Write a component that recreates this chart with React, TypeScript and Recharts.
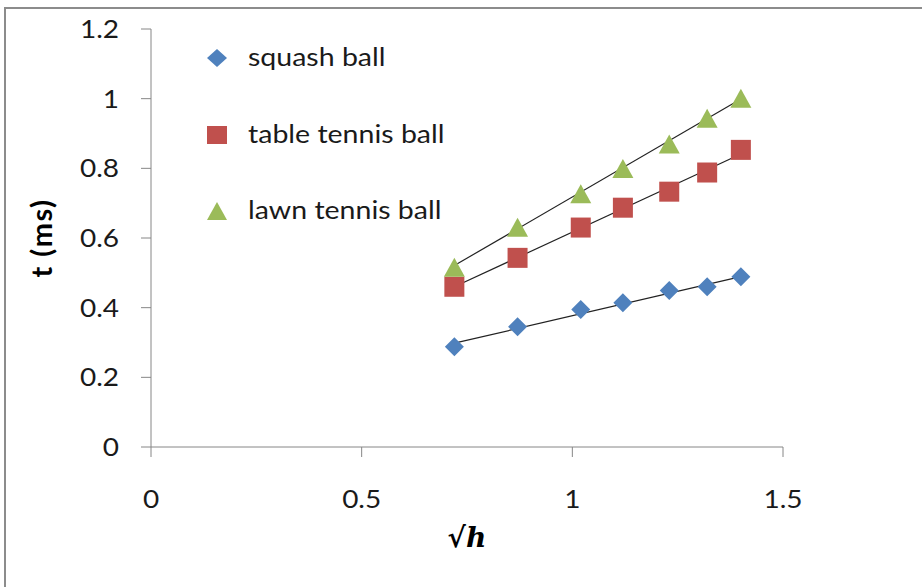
import React from 'react';
import { ScatterChart, Scatter, XAxis, YAxis, ReferenceLine, Label } from 'recharts';

// sqrt(h) values shared by all three series
const xValues = [0.72, 0.87, 1.02, 1.12, 1.23, 1.32, 1.4];
const squashBall = [0.288, 0.345, 0.395, 0.414, 0.449, 0.46, 0.489];
const tableTennisBall = [0.46, 0.543, 0.63, 0.687, 0.733, 0.788, 0.853];
const lawnTennisBall = [0.513, 0.628, 0.724, 0.797, 0.867, 0.941, 0.998];

// linear trendline end points
const trendX = [0.72, 1.4];
const squashTrend = [0.298, 0.489];
const tableTrend = [0.46, 0.841];
const lawnTrend = [0.521, 0.999];

const xTicks = [0, 0.5, 1, 1.5];
const yTicks = [0, 0.2, 0.4, 0.6, 0.8, 1, 1.2];

const colors = {
    squash: '#4F81BD',
    table: '#C0504D',
    lawn: '#9BBB59',
    axis: '#868686',
    text: '#1a1a1a',
    trend: '#222222',
};

const FONT = 'Lato, "Open Sans", sans-serif';
const STRETCH = 1.12;

const toPoints = (ys: number[]) => ys.map((y, i) => ({ x: xValues[i], y }));

const Diamond = (props: any) => {
    const { cx, cy } = props;
    if (cx == null || cy == null) return null;
    return <polygon points={`${cx},${cy - 9.5} ${cx + 9.5},${cy} ${cx},${cy + 9.5} ${cx - 9.5},${cy}`} fill={colors.squash} />;
};

const Square = (props: any) => {
    const { cx, cy } = props;
    if (cx == null || cy == null) return null;
    return <rect x={cx - 10} y={cy - 10} width={20} height={20} fill={colors.table} />;
};

const Triangle = (props: any) => {
    const { cx, cy } = props;
    if (cx == null || cy == null) return null;
    return <polygon points={`${cx},${cy - 10.5} ${cx + 10.5},${cy + 8.5} ${cx - 10.5},${cy + 8.5}`} fill={colors.lawn} />;
};

const YTick = (props: any) => {
    const { x, y, payload } = props;
    return (
        <g transform={`translate(${x - 20},${y}) scale(${STRETCH},1)`}>
            <text x={0} y={0} dy={9} textAnchor="end" fontFamily={FONT} fontSize={25} fill={colors.text}>
                {payload.value}
            </text>
        </g>
    );
};

const XTick = (props: any) => {
    const { x, y, payload } = props;
    return (
        <g transform={`translate(${x},${y + 40}) scale(${STRETCH},1)`}>
            <text x={0} y={0} dy={9} textAnchor="middle" fontFamily={FONT} fontSize={25} fill={colors.text}>
                {payload.value}
            </text>
        </g>
    );
};

const legendItems = [
    { name: 'squash ball', icon: 'diamond', color: colors.squash },
    { name: 'table tennis ball', icon: 'square', color: colors.table },
    { name: 'lawn tennis ball', icon: 'triangle', color: colors.lawn },
];

function LegendIcon({ icon, color }: { icon: string; color: string }) {
    return (
        <svg width={22} height={22} style={{ display: 'block' }}>
            {icon === 'diamond' && <polygon points="11,2 21,11 11,20 1,11" fill={color} />}
            {icon === 'square' && <rect x={1} y={2} width={20} height={18} fill={color} />}
            {icon === 'triangle' && <polygon points="11,2 21,20 1,20" fill={color} />}
        </svg>
    );
}

export default function App() {
    return (
        <div style={{ position: 'absolute', left: 0, top: 0, width: 922, height: 587, background: '#fff', overflow: 'hidden' }}>
            <div style={{ position: 'absolute', left: 4, top: 7, width: 940, height: 600, borderLeft: '2px solid #8c8c8c', borderTop: '2px solid #8c8c8c' }} />
            <div style={{ position: 'absolute', left: 0, top: 0 }}>
                <ScatterChart width={922} height={587} margin={{ top: 29, right: 139, left: 0, bottom: 0 }}>
                    <XAxis
                        type="number"
                        dataKey="x"
                        domain={[0, 1.5]}
                        ticks={xTicks}
                        height={140}
                        tickSize={10}
                        stroke={colors.axis}
                        tick={<XTick />}
                    >
                        <Label
                            content={(p: any) => {
                                const vb = p.viewBox || {};
                                return (
                                    <text
                                        x={vb.x + vb.width / 2}
                                        y={vb.y + 100}
                                        textAnchor="middle"
                                        fontFamily='"DejaVu Serif", serif'
                                        fontStyle="italic"
                                        fontWeight="bold"
                                        fontSize={28}
                                        fill="#000"
                                    >
                                        √h
                                    </text>
                                );
                            }}
                        />
                    </XAxis>
                    <YAxis
                        type="number"
                        dataKey="y"
                        domain={[0, 1.2]}
                        ticks={yTicks}
                        width={151}
                        tickSize={10}
                        stroke={colors.axis}
                        tick={<YTick />}
                    >
                        <Label
                            content={(p: any) => {
                                const vb = p.viewBox || {};
                                const cy = vb.y + vb.height / 2;
                                return (
                                    <text
                                        x={0}
                                        y={0}
                                        transform={`translate(${vb.x + 52},${cy}) rotate(-90)`}
                                        textAnchor="middle"
                                        fontFamily={FONT}
                                        fontWeight="bold"
                                        fontSize={29}
                                        letterSpacing={1.5}
                                        fill="#000"
                                    >
                                        t (ms)
                                    </text>
                                );
                            }}
                        />
                    </YAxis>
                    <Scatter name="squash ball" data={toPoints(squashBall)} shape={<Diamond />} isAnimationActive={false} />
                    <Scatter name="table tennis ball" data={toPoints(tableTennisBall)} shape={<Square />} isAnimationActive={false} />
                    <Scatter name="lawn tennis ball" data={toPoints(lawnTennisBall)} shape={<Triangle />} isAnimationActive={false} />
                    <ReferenceLine segment={[{ x: trendX[0], y: squashTrend[0] }, { x: trendX[1], y: squashTrend[1] }]} stroke={colors.trend} strokeWidth={1.2} />
                    <ReferenceLine segment={[{ x: trendX[0], y: tableTrend[0] }, { x: trendX[1], y: tableTrend[1] }]} stroke={colors.trend} strokeWidth={1.2} />
                    <ReferenceLine segment={[{ x: trendX[0], y: lawnTrend[0] }, { x: trendX[1], y: lawnTrend[1] }]} stroke={colors.trend} strokeWidth={1.2} />
                </ScatterChart>
            </div>
            <div style={{ position: 'absolute', left: 206, top: 36 }}>
                {legendItems.map((item, i) => (
                    <div key={item.name} style={{ position: 'absolute', left: 0, top: i * 76.5, display: 'flex', alignItems: 'center', height: 44 }}>
                        <LegendIcon icon={item.icon} color={item.color} />
                        <span
                            style={{
                                marginLeft: 20,
                                fontFamily: FONT,
                                fontSize: 25,
                                color: colors.text,
                                whiteSpace: 'nowrap',
                                display: 'inline-block',
                                transform: `scaleX(1.14)`,
                                transformOrigin: 'left center',
                                lineHeight: '44px',
                                marginTop: -4,
                            }}
                        >
                            {item.name}
                        </span>
                    </div>
                ))}
            </div>
        </div>
    );
}
